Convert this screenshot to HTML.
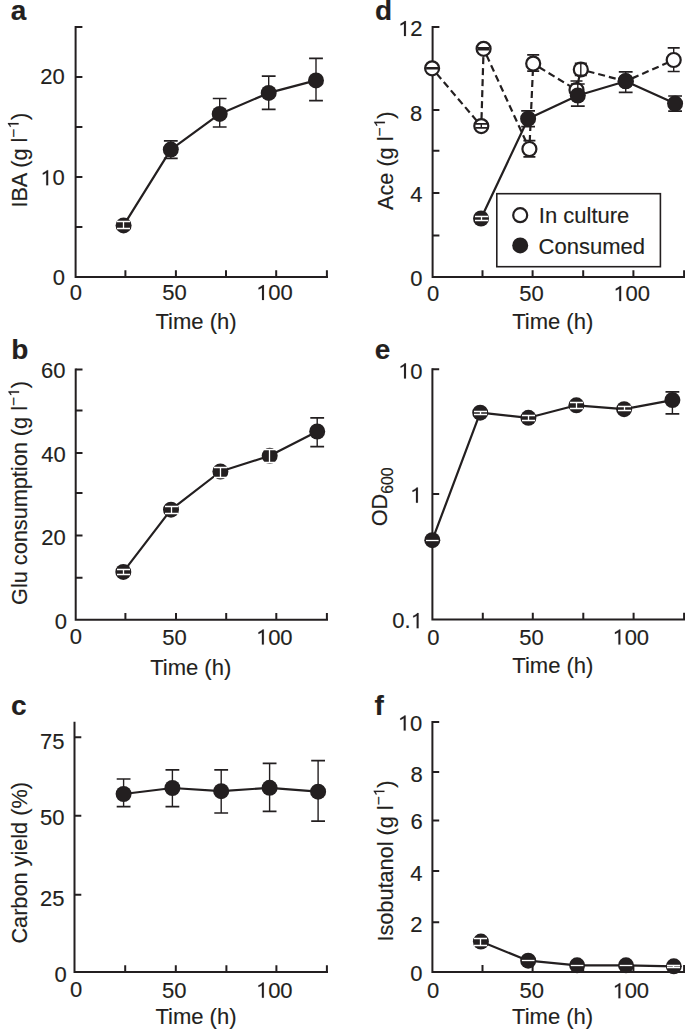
<!DOCTYPE html><html><head><meta charset="utf-8"><style>html,body{margin:0;padding:0;background:#fff;}svg{display:block;}.t{stroke:#231f20;stroke-width:0.15px;}</style></head><body><svg width="685" height="1030" viewBox="0 0 685 1030" font-family="Liberation Sans, sans-serif" fill="#231f20">
<rect width="685" height="1030" fill="#fff"/>
<text class="t" x="10.7" y="20.25" font-size="28" font-weight="bold">a</text>
<text class="t" x="11.2" y="359.45" font-size="28" font-weight="bold">b</text>
<text class="t" x="11.1" y="714.75" font-size="28" font-weight="bold">c</text>
<text class="t" x="375.05" y="20.1" font-size="28" font-weight="bold">d</text>
<text class="t" x="374.8" y="359.35" font-size="28" font-weight="bold">e</text>
<text class="t" x="374.45" y="714.7" font-size="28" font-weight="bold">f</text>
<path d="M75.6 26.9V277H327" fill="none" stroke="#231f20" stroke-width="2" stroke-linecap="square"/>
<path d="M75.6 26.9h6.8M75.6 76.9h6.8M75.6 127h6.8M75.6 177.1h6.8M75.6 227.1h6.8M125.4 277v-6.8M175.9 277v-6.8M226 277v-6.8M276.2 277v-6.8M326.9 277v-6.8" fill="none" stroke="#231f20" stroke-width="2"/>
<path d="M75.7 369.5V619.7H327" fill="none" stroke="#231f20" stroke-width="2" stroke-linecap="square"/>
<path d="M75.7 369.5h6.8M75.7 410.6h6.8M75.7 453.1h6.8M75.7 493h6.8M75.7 535.6h6.8M75.7 577.8h6.8M125.4 619.7v-6.8M176 619.7v-6.8M226.2 619.7v-6.8M276.3 619.7v-6.8M326.9 619.7v-6.8" fill="none" stroke="#231f20" stroke-width="2"/>
<path d="M74.5 722.8V972.1H327" fill="none" stroke="#231f20" stroke-width="2" stroke-linecap="square"/>
<path d="M74.5 737.2h6.8M74.5 815.7h6.8M74.5 894.8h6.8M125.2 972.1v-6.8M175.8 972.1v-6.8M226.4 972.1v-6.8M276.4 972.1v-6.8M326.9 972.1v-6.8" fill="none" stroke="#231f20" stroke-width="2"/>
<path d="M432.6 26.9V277H685.5" fill="none" stroke="#231f20" stroke-width="2" stroke-linecap="square"/>
<path d="M432.6 26.9h6.8M432.6 68.6h6.8M432.6 110.1h6.8M432.6 150.8h6.8M432.6 193h6.8M432.6 235.4h6.8M482.5 277v-6.8M532.6 277v-6.8M583.2 277v-6.8M633.4 277v-6.8M684.1 277v-6.8" fill="none" stroke="#231f20" stroke-width="2"/>
<path d="M432.4 369.2V619.6H685.5" fill="none" stroke="#231f20" stroke-width="2" stroke-linecap="square"/>
<path d="M432.4 369.2h6.8M432.4 494h6.8M482.8 619.6v-6.8M532.8 619.6v-6.8M583.3 619.6v-6.8M633.6 619.6v-6.8M684.1 619.6v-6.8" fill="none" stroke="#231f20" stroke-width="2"/>
<path d="M432.4 721.9V971.9H685.5" fill="none" stroke="#231f20" stroke-width="2" stroke-linecap="square"/>
<path d="M432.4 721.9h6.8M432.4 772h6.8M432.4 820.5h6.8M432.4 871h6.8M432.4 922.2h6.8M482.5 971.9v-6.8M532.6 971.9v-6.8M583.2 971.9v-6.8M633.4 971.9v-6.8M684.1 971.9v-6.8" fill="none" stroke="#231f20" stroke-width="2"/>
<text class="t" x="52.75" y="285.2" font-size="22">0</text>
<path class="t" vector-effect="non-scaling-stroke" transform="translate(40.22 185.3) scale(0.01074 -0.01074)" d="M740 0L560 0L560 1160C520 1128 468 1096 405 1062C342 1030 286 1008 235 996L235 1150C325 1185 404 1230 472 1280C540 1330 590 1370 621 1409L740 1409Z"/>
<text class="t" x="52.46" y="185.3" font-size="22">0</text>
<text class="t" x="40.35" y="83.9" font-size="22">20</text>
<text class="t" x="69.85" y="300.2" font-size="22">0</text>
<text class="t" x="162.35" y="300.2" font-size="22">50</text>
<path class="t" vector-effect="non-scaling-stroke" transform="translate(256 300.1) scale(0.01074 -0.01074)" d="M740 0L560 0L560 1160C520 1128 468 1096 405 1062C342 1030 286 1008 235 996L235 1150C325 1185 404 1230 472 1280C540 1330 590 1370 621 1409L740 1409Z"/>
<text class="t" x="268.24" y="300.1" font-size="22">00</text>
<text class="t" x="54.65" y="628.8" font-size="22">0</text>
<text class="t" x="41.25" y="544.8" font-size="22">20</text>
<text class="t" x="41.25" y="461.6" font-size="22">40</text>
<text class="t" x="40.95" y="377.9" font-size="22">60</text>
<text class="t" x="69.75" y="644.4" font-size="22">0</text>
<text class="t" x="162.15" y="644.6" font-size="22">50</text>
<path class="t" vector-effect="non-scaling-stroke" transform="translate(255.9 644.6) scale(0.01074 -0.01074)" d="M740 0L560 0L560 1160C520 1128 468 1096 405 1062C342 1030 286 1008 235 996L235 1150C325 1185 404 1230 472 1280C540 1330 590 1370 621 1409L740 1409Z"/>
<text class="t" x="268.14" y="644.6" font-size="22">00</text>
<text class="t" x="54.55" y="982.4" font-size="22">0</text>
<text class="t" x="39.9" y="906.2" font-size="22">25</text>
<text class="t" x="39.95" y="825.2" font-size="22">50</text>
<text class="t" x="39.9" y="748.75" font-size="22">75</text>
<text class="t" x="69.95" y="997.4" font-size="22">0</text>
<text class="t" x="162.05" y="997.7" font-size="22">50</text>
<path class="t" vector-effect="non-scaling-stroke" transform="translate(255.9 997.7) scale(0.01074 -0.01074)" d="M740 0L560 0L560 1160C520 1128 468 1096 405 1062C342 1030 286 1008 235 996L235 1150C325 1185 404 1230 472 1280C540 1330 590 1370 621 1409L740 1409Z"/>
<text class="t" x="268.14" y="997.7" font-size="22">00</text>
<text class="t" x="410.35" y="286.4" font-size="22">0</text>
<text class="t" x="410.15" y="202.15" font-size="22">4</text>
<text class="t" x="410.05" y="120.5" font-size="22">8</text>
<path class="t" vector-effect="non-scaling-stroke" transform="translate(397.97 36.1) scale(0.01074 -0.01074)" d="M740 0L560 0L560 1160C520 1128 468 1096 405 1062C342 1030 286 1008 235 996L235 1150C325 1185 404 1230 472 1280C540 1330 590 1370 621 1409L740 1409Z"/>
<text class="t" x="410.21" y="36.1" font-size="22">2</text>
<text class="t" x="426.95" y="300.9" font-size="22">0</text>
<text class="t" x="519.15" y="300.9" font-size="22">50</text>
<path class="t" vector-effect="non-scaling-stroke" transform="translate(613.2 301.1) scale(0.01074 -0.01074)" d="M740 0L560 0L560 1160C520 1128 468 1096 405 1062C342 1030 286 1008 235 996L235 1150C325 1185 404 1230 472 1280C540 1330 590 1370 621 1409L740 1409Z"/>
<text class="t" x="625.44" y="301.1" font-size="22">00</text>
<text class="t" x="392.3" y="628.2" font-size="22">0.</text>
<path class="t" vector-effect="non-scaling-stroke" transform="translate(410.65 628.2) scale(0.01074 -0.01074)" d="M740 0L560 0L560 1160C520 1128 468 1096 405 1062C342 1030 286 1008 235 996L235 1150C325 1185 404 1230 472 1280C540 1330 590 1370 621 1409L740 1409Z"/>
<path class="t" vector-effect="non-scaling-stroke" transform="translate(409.96 502.67) scale(0.01074 -0.01074)" d="M740 0L560 0L560 1160C520 1128 468 1096 405 1062C342 1030 286 1008 235 996L235 1150C325 1185 404 1230 472 1280C540 1330 590 1370 621 1409L740 1409Z"/>
<path class="t" vector-effect="non-scaling-stroke" transform="translate(398.02 378.5) scale(0.01074 -0.01074)" d="M740 0L560 0L560 1160C520 1128 468 1096 405 1062C342 1030 286 1008 235 996L235 1150C325 1185 404 1230 472 1280C540 1330 590 1370 621 1409L740 1409Z"/>
<text class="t" x="410.26" y="378.5" font-size="22">0</text>
<text class="t" x="427.15" y="644.5" font-size="22">0</text>
<text class="t" x="519.35" y="644.5" font-size="22">50</text>
<path class="t" vector-effect="non-scaling-stroke" transform="translate(612.4 644.6) scale(0.01074 -0.01074)" d="M740 0L560 0L560 1160C520 1128 468 1096 405 1062C342 1030 286 1008 235 996L235 1150C325 1185 404 1230 472 1280C540 1330 590 1370 621 1409L740 1409Z"/>
<text class="t" x="624.64" y="644.6" font-size="22">00</text>
<text class="t" x="410.25" y="980.8" font-size="22">0</text>
<text class="t" x="410.3" y="932.2" font-size="22">2</text>
<text class="t" x="410.15" y="881.35" font-size="22">4</text>
<text class="t" x="410.4" y="829.1" font-size="22">6</text>
<text class="t" x="410.45" y="781.7" font-size="22">8</text>
<path class="t" vector-effect="non-scaling-stroke" transform="translate(397.72 730.6) scale(0.01074 -0.01074)" d="M740 0L560 0L560 1160C520 1128 468 1096 405 1062C342 1030 286 1008 235 996L235 1150C325 1185 404 1230 472 1280C540 1330 590 1370 621 1409L740 1409Z"/>
<text class="t" x="409.96" y="730.6" font-size="22">0</text>
<text class="t" x="427.05" y="998.3" font-size="22">0</text>
<text class="t" x="519.55" y="998.3" font-size="22">50</text>
<path class="t" vector-effect="non-scaling-stroke" transform="translate(612.4 998.3) scale(0.01074 -0.01074)" d="M740 0L560 0L560 1160C520 1128 468 1096 405 1062C342 1030 286 1008 235 996L235 1150C325 1185 404 1230 472 1280C540 1330 590 1370 621 1409L740 1409Z"/>
<text class="t" x="624.64" y="998.3" font-size="22">00</text>
<text class="t" x="155.5" y="329.2" font-size="22">Time (h)</text>
<text class="t" x="150.2" y="675.1" font-size="22">Time (h)</text>
<text class="t" x="155.4" y="1024.45" font-size="22">Time (h)</text>
<text class="t" x="512.2" y="329.2" font-size="22">Time (h)</text>
<text class="t" x="512.3" y="673.45" font-size="22">Time (h)</text>
<text class="t" x="512.1" y="1024.2" font-size="22">Time (h)</text>
<g transform="translate(26.8 160.2) rotate(-90)">
<text class="t" x="-47.43" y="0" font-size="21.7">IBA (g l</text>
<text class="t" x="22.53" y="-8.2" font-size="15.5">−</text>
<path class="t" vector-effect="non-scaling-stroke" transform="translate(31.58 -8.2) scale(0.00757 -0.00757)" d="M740 0L560 0L560 1160C520 1128 468 1096 405 1062C342 1030 286 1008 235 996L235 1150C325 1185 404 1230 472 1280C540 1330 590 1370 621 1409L740 1409Z"/>
<text class="t" x="40.2" y="0" font-size="21.7">)</text>
</g>
<g transform="translate(27.3 493) rotate(-90)">
<text class="t" x="-111.95" y="0" font-size="21.7">Glu consumption (g l</text>
<text class="t" x="87.06" y="-8.2" font-size="15.5">−</text>
<path class="t" vector-effect="non-scaling-stroke" transform="translate(96.11 -8.2) scale(0.00757 -0.00757)" d="M740 0L560 0L560 1160C520 1128 468 1096 405 1062C342 1030 286 1008 235 996L235 1150C325 1185 404 1230 472 1280C540 1330 590 1370 621 1409L740 1409Z"/>
<text class="t" x="104.73" y="0" font-size="21.7">)</text>
</g>
<g transform="translate(27 862.8) rotate(-90)">
<text class="t" x="-80.8" y="0" font-size="21.7">Carbon yield (%)</text>
</g>
<g transform="translate(393.1 160.8) rotate(-90)">
<text class="t" x="-49.23" y="0" font-size="21.7">Ace (g l</text>
<text class="t" x="24.33" y="-8.2" font-size="15.5">−</text>
<path class="t" vector-effect="non-scaling-stroke" transform="translate(33.39 -8.2) scale(0.00757 -0.00757)" d="M740 0L560 0L560 1160C520 1128 468 1096 405 1062C342 1030 286 1008 235 996L235 1150C325 1185 404 1230 472 1280C540 1330 590 1370 621 1409L740 1409Z"/>
<text class="t" x="42.01" y="0" font-size="21.7">)</text>
</g>
<g transform="translate(386.6 496.9) rotate(-90)">
<text class="t" x="-29.46" y="0" font-size="21.7">OD</text>
<text class="t" x="3.09" y="6" font-size="15.8">600</text>
</g>
<g transform="translate(392.6 861) rotate(-90)">
<text class="t" x="-80.61" y="0" font-size="21.7">Isobutanol (g l</text>
<text class="t" x="55.71" y="-8.2" font-size="15.5">−</text>
<path class="t" vector-effect="non-scaling-stroke" transform="translate(64.76 -8.2) scale(0.00757 -0.00757)" d="M740 0L560 0L560 1160C520 1128 468 1096 405 1062C342 1030 286 1008 235 996L235 1150C325 1185 404 1230 472 1280C540 1330 590 1370 621 1409L740 1409Z"/>
<text class="t" x="73.38" y="0" font-size="21.7">)</text>
</g>
<path d="M123.6 225.4 L170.8 149.6 L219.7 113.9 L268.7 92.9 L316 80.4" fill="none" stroke="#231f20" stroke-width="2.2" stroke-linejoin="round"/>
<circle cx="123.6" cy="225.4" r="8" fill="#231f20"/>
<path d="M123.5 221.5V228.5" fill="none" stroke="#fff" stroke-width="1.3"/>
<path d="M117 221.5h13M117 228.5h13" fill="none" stroke="#fff" stroke-width="1.4"/>
<path d="M170.8 140.8V158.3" fill="none" stroke="#231f20" stroke-width="1.4"/>
<path d="M163.9 140.8h13.8M163.9 158.3h13.8" fill="none" stroke="#231f20" stroke-width="1.7"/>
<circle cx="170.8" cy="149.6" r="8" fill="#231f20"/>
<path d="M219.7 98.5V127" fill="none" stroke="#231f20" stroke-width="1.4"/>
<path d="M212.8 98.5h13.8M212.8 127h13.8" fill="none" stroke="#231f20" stroke-width="1.7"/>
<circle cx="219.7" cy="113.9" r="8" fill="#231f20"/>
<path d="M268.7 76.2V109.4" fill="none" stroke="#231f20" stroke-width="1.4"/>
<path d="M261.8 76.2h13.8M261.8 109.4h13.8" fill="none" stroke="#231f20" stroke-width="1.7"/>
<circle cx="268.7" cy="92.9" r="8" fill="#231f20"/>
<path d="M316 58.3V100.7" fill="none" stroke="#231f20" stroke-width="1.4"/>
<path d="M309.1 58.3h13.8M309.1 100.7h13.8" fill="none" stroke="#231f20" stroke-width="1.7"/>
<circle cx="316" cy="80.4" r="8" fill="#231f20"/>
<path d="M123.3 571.9 L171 509.7 L220.4 471.5 L269.7 455.8 L317.2 431.5" fill="none" stroke="#231f20" stroke-width="2.2" stroke-linejoin="round"/>
<circle cx="123.3" cy="571.9" r="8" fill="#231f20"/>
<path d="M123.5 569.5V574.5" fill="none" stroke="#fff" stroke-width="1.3"/>
<path d="M117 569.5h13M117 574.5h13" fill="none" stroke="#fff" stroke-width="1.4"/>
<circle cx="171" cy="509.7" r="8" fill="#231f20"/>
<path d="M171.5 506.5V513.5" fill="none" stroke="#fff" stroke-width="1.3"/>
<path d="M165 506.5h13M165 513.5h13" fill="none" stroke="#fff" stroke-width="1.4"/>
<circle cx="220.4" cy="471.5" r="8" fill="#231f20"/>
<path d="M220.5 467.5V477.5" fill="none" stroke="#fff" stroke-width="1.3"/>
<path d="M214 467.5h13M214 477.5h13" fill="none" stroke="#fff" stroke-width="1.4"/>
<circle cx="269.7" cy="455.8" r="8" fill="#231f20"/>
<path d="M269.5 449.5V462.5" fill="none" stroke="#fff" stroke-width="1.3"/>
<path d="M263 449.5h13M263 462.5h13" fill="none" stroke="#fff" stroke-width="1.4"/>
<path d="M317.2 417.9V446.7" fill="none" stroke="#231f20" stroke-width="1.4"/>
<path d="M310.3 417.9h13.8M310.3 446.7h13.8" fill="none" stroke="#231f20" stroke-width="1.7"/>
<circle cx="317.2" cy="431.5" r="8" fill="#231f20"/>
<path d="M123.6 794 L172.4 788 L221.2 791.2 L269.6 787.8 L318.1 791.7" fill="none" stroke="#231f20" stroke-width="2.2" stroke-linejoin="round"/>
<path d="M123.6 779V806.6" fill="none" stroke="#231f20" stroke-width="1.4"/>
<path d="M116.7 779h13.8M116.7 806.6h13.8" fill="none" stroke="#231f20" stroke-width="1.7"/>
<circle cx="123.6" cy="794" r="8" fill="#231f20"/>
<path d="M172.4 769.9V806.6" fill="none" stroke="#231f20" stroke-width="1.4"/>
<path d="M165.5 769.9h13.8M165.5 806.6h13.8" fill="none" stroke="#231f20" stroke-width="1.7"/>
<circle cx="172.4" cy="788" r="8" fill="#231f20"/>
<path d="M221.2 769.9V813" fill="none" stroke="#231f20" stroke-width="1.4"/>
<path d="M214.3 769.9h13.8M214.3 813h13.8" fill="none" stroke="#231f20" stroke-width="1.7"/>
<circle cx="221.2" cy="791.2" r="8" fill="#231f20"/>
<path d="M269.6 763.3V811.3" fill="none" stroke="#231f20" stroke-width="1.4"/>
<path d="M262.7 763.3h13.8M262.7 811.3h13.8" fill="none" stroke="#231f20" stroke-width="1.7"/>
<circle cx="269.6" cy="787.8" r="8" fill="#231f20"/>
<path d="M318.1 760.7V821.2" fill="none" stroke="#231f20" stroke-width="1.4"/>
<path d="M311.2 760.7h13.8M311.2 821.2h13.8" fill="none" stroke="#231f20" stroke-width="1.7"/>
<circle cx="318.1" cy="791.7" r="8" fill="#231f20"/>
<path d="M432.1 68.3 L481.3 126.1" fill="none" stroke="#231f20" stroke-width="2.2" stroke-linejoin="round" stroke-dasharray="7 4" stroke-dashoffset="4"/>
<path d="M481.3 126.1 L483.6 48.8" fill="none" stroke="#231f20" stroke-width="2.2" stroke-linejoin="round" stroke-dasharray="7 4" stroke-dashoffset="4"/>
<path d="M483.6 48.8 L529.4 149" fill="none" stroke="#231f20" stroke-width="2.2" stroke-linejoin="round" stroke-dasharray="7 4" stroke-dashoffset="4"/>
<path d="M529.4 149 L533.2 63.6" fill="none" stroke="#231f20" stroke-width="2.2" stroke-linejoin="round" stroke-dasharray="7 4" stroke-dashoffset="4"/>
<path d="M533.2 63.6 L576.5 90" fill="none" stroke="#231f20" stroke-width="2.2" stroke-linejoin="round" stroke-dasharray="7 4" stroke-dashoffset="4"/>
<path d="M576.5 90 L580.8 69.5" fill="none" stroke="#231f20" stroke-width="2.2" stroke-linejoin="round" stroke-dasharray="7 4" stroke-dashoffset="4"/>
<path d="M580.8 69.5 L625.7 81.2" fill="none" stroke="#231f20" stroke-width="2.2" stroke-linejoin="round" stroke-dasharray="7 4" stroke-dashoffset="4"/>
<path d="M625.7 81.2 L673.7 60" fill="none" stroke="#231f20" stroke-width="2.2" stroke-linejoin="round" stroke-dasharray="7 4" stroke-dashoffset="4"/>
<path d="M481 218.5 L528.1 118.7 L577.8 95.5 L625.7 81.2 L675.1 103.6" fill="none" stroke="#231f20" stroke-width="2.2" stroke-linejoin="round"/>
<circle cx="432.1" cy="68.3" r="7" fill="#fff" stroke="#231f20" stroke-width="2.2"/>
<path d="M432.1 68V68.6" fill="none" stroke="#231f20" stroke-width="1.4"/>
<path d="M426.1 68h12M426.1 68.6h12" fill="none" stroke="#231f20" stroke-width="1.8"/>
<circle cx="481.3" cy="126.1" r="7" fill="#fff" stroke="#231f20" stroke-width="2.2"/>
<path d="M481.3 123.9V127.9" fill="none" stroke="#231f20" stroke-width="1.4"/>
<path d="M475.3 123.9h12M475.3 127.9h12" fill="none" stroke="#231f20" stroke-width="1.8"/>
<circle cx="483.6" cy="48.8" r="7" fill="#fff" stroke="#231f20" stroke-width="2.2"/>
<path d="M483.6 47.9V49.7" fill="none" stroke="#231f20" stroke-width="1.4"/>
<path d="M477.6 47.9h12M477.6 49.7h12" fill="none" stroke="#231f20" stroke-width="1.8"/>
<path d="M529.4 140.6V156.9" fill="none" stroke="#231f20" stroke-width="1.4"/>
<path d="M523.4 140.6h12M523.4 156.9h12" fill="none" stroke="#231f20" stroke-width="1.7"/>
<circle cx="529.4" cy="149" r="7" fill="#fff" stroke="#231f20" stroke-width="2.2"/>
<path d="M533.2 54.9V71.2" fill="none" stroke="#231f20" stroke-width="1.4"/>
<path d="M527.2 54.9h12M527.2 71.2h12" fill="none" stroke="#231f20" stroke-width="1.7"/>
<circle cx="533.2" cy="63.6" r="7" fill="#fff" stroke="#231f20" stroke-width="2.2"/>
<path d="M576.5 81V99" fill="none" stroke="#231f20" stroke-width="1.4"/>
<path d="M570.5 81h12M570.5 99h12" fill="none" stroke="#231f20" stroke-width="1.7"/>
<circle cx="576.5" cy="90" r="7" fill="#fff" stroke="#231f20" stroke-width="2.2"/>
<circle cx="580.8" cy="69.5" r="7" fill="#fff" stroke="#231f20" stroke-width="2.2"/>
<path d="M580.8 63.3V75.4" fill="none" stroke="#231f20" stroke-width="1.4"/>
<path d="M574.8 63.3h12M574.8 75.4h12" fill="none" stroke="#231f20" stroke-width="1.8"/>
<circle cx="625.7" cy="81.2" r="7" fill="#fff" stroke="#231f20" stroke-width="2.2"/>
<path d="M625.7 78V84.4" fill="none" stroke="#231f20" stroke-width="1.4"/>
<path d="M619.7 78h12M619.7 84.4h12" fill="none" stroke="#231f20" stroke-width="1.8"/>
<path d="M673.7 47.9V71.5" fill="none" stroke="#231f20" stroke-width="1.4"/>
<path d="M667.7 47.9h12M667.7 71.5h12" fill="none" stroke="#231f20" stroke-width="1.7"/>
<circle cx="673.7" cy="60" r="7" fill="#fff" stroke="#231f20" stroke-width="2.2"/>
<circle cx="481" cy="218.5" r="8" fill="#231f20"/>
<path d="M481.5 216.5V220.5" fill="none" stroke="#fff" stroke-width="1.3"/>
<path d="M475 216.5h13M475 220.5h13" fill="none" stroke="#fff" stroke-width="1.4"/>
<path d="M528.1 110.9V126.6" fill="none" stroke="#231f20" stroke-width="1.4"/>
<path d="M521.2 110.9h13.8M521.2 126.6h13.8" fill="none" stroke="#231f20" stroke-width="1.7"/>
<circle cx="528.1" cy="118.7" r="8" fill="#231f20"/>
<path d="M577.8 84V106.2" fill="none" stroke="#231f20" stroke-width="1.4"/>
<path d="M570.9 84h13.8M570.9 106.2h13.8" fill="none" stroke="#231f20" stroke-width="1.7"/>
<circle cx="577.8" cy="95.5" r="8" fill="#231f20"/>
<path d="M625.7 71.8V92.3" fill="none" stroke="#231f20" stroke-width="1.4"/>
<path d="M618.8 71.8h13.8M618.8 92.3h13.8" fill="none" stroke="#231f20" stroke-width="1.7"/>
<circle cx="625.7" cy="81.2" r="8" fill="#231f20"/>
<path d="M675.1 96V111.2" fill="none" stroke="#231f20" stroke-width="1.4"/>
<path d="M668.2 96h13.8M668.2 111.2h13.8" fill="none" stroke="#231f20" stroke-width="1.7"/>
<circle cx="675.1" cy="103.6" r="8" fill="#231f20"/>
<path d="M432.3 540.2 L480.2 412.7 L528.4 417.8 L576.4 405.3 L624.1 409.2 L672.4 400.1" fill="none" stroke="#231f20" stroke-width="2.2" stroke-linejoin="round"/>
<circle cx="432.3" cy="540.2" r="8" fill="#231f20"/>
<path d="M426 540.5h12.6" stroke="#fff" stroke-width="1.3"/>
<circle cx="480.2" cy="412.7" r="8" fill="#231f20"/>
<path d="M480.5 411.5V414.5" fill="none" stroke="#fff" stroke-width="1.3"/>
<path d="M474 411.5h13M474 414.5h13" fill="none" stroke="#fff" stroke-width="1.4"/>
<circle cx="528.4" cy="417.8" r="8" fill="#231f20"/>
<path d="M528.5 415.5V420.5" fill="none" stroke="#fff" stroke-width="1.3"/>
<path d="M522 415.5h13M522 420.5h13" fill="none" stroke="#fff" stroke-width="1.4"/>
<circle cx="576.4" cy="405.3" r="8" fill="#231f20"/>
<path d="M576.5 402.5V408.5" fill="none" stroke="#fff" stroke-width="1.3"/>
<path d="M570 402.5h13M570 408.5h13" fill="none" stroke="#fff" stroke-width="1.4"/>
<circle cx="624.1" cy="409.2" r="8" fill="#231f20"/>
<path d="M624.5 406.5V410.5" fill="none" stroke="#fff" stroke-width="1.3"/>
<path d="M618 406.5h13M618 410.5h13" fill="none" stroke="#fff" stroke-width="1.4"/>
<path d="M672.4 391.8V413.8" fill="none" stroke="#231f20" stroke-width="1.4"/>
<path d="M665.5 391.8h13.8M665.5 413.8h13.8" fill="none" stroke="#231f20" stroke-width="1.7"/>
<circle cx="672.4" cy="400.1" r="8" fill="#231f20"/>
<path d="M480.9 941.6 L528.2 960.7 L577.1 965.3 L626 965.3 L673.8 966.3" fill="none" stroke="#231f20" stroke-width="2.2" stroke-linejoin="round"/>
<circle cx="480.9" cy="941.6" r="8" fill="#231f20"/>
<path d="M480.5 938.5V945.5" fill="none" stroke="#fff" stroke-width="1.3"/>
<path d="M474 938.5h13M474 945.5h13" fill="none" stroke="#fff" stroke-width="1.4"/>
<circle cx="528.2" cy="960.7" r="8" fill="#231f20"/>
<path d="M521.9 960.5h12.6" stroke="#fff" stroke-width="1.3"/>
<circle cx="577.1" cy="965.3" r="8" fill="#231f20"/>
<path d="M570.8 965.5h12.6" stroke="#fff" stroke-width="1.3"/>
<circle cx="626" cy="965.3" r="8" fill="#231f20"/>
<path d="M619.7 965.5h12.6" stroke="#fff" stroke-width="1.3"/>
<circle cx="673.8" cy="966.3" r="8" fill="#231f20"/>
<path d="M673.5 965.5V967.5" fill="none" stroke="#fff" stroke-width="1.3"/>
<path d="M667 965.5h13M667 967.5h13" fill="none" stroke="#fff" stroke-width="1.4"/>
<rect x="496.8" y="193.7" width="163.6" height="73" fill="#fff" stroke="#231f20" stroke-width="1.6"/>
<circle cx="520.2" cy="215.2" r="7" fill="#fff" stroke="#231f20" stroke-width="2.2"/>
<circle cx="520.2" cy="245.4" r="8" fill="#231f20"/>
<text class="t" x="538.8" y="223.15" font-size="22">In culture</text>
<text class="t" x="538.55" y="253.95" font-size="22">Consumed</text>
</svg></body></html>
